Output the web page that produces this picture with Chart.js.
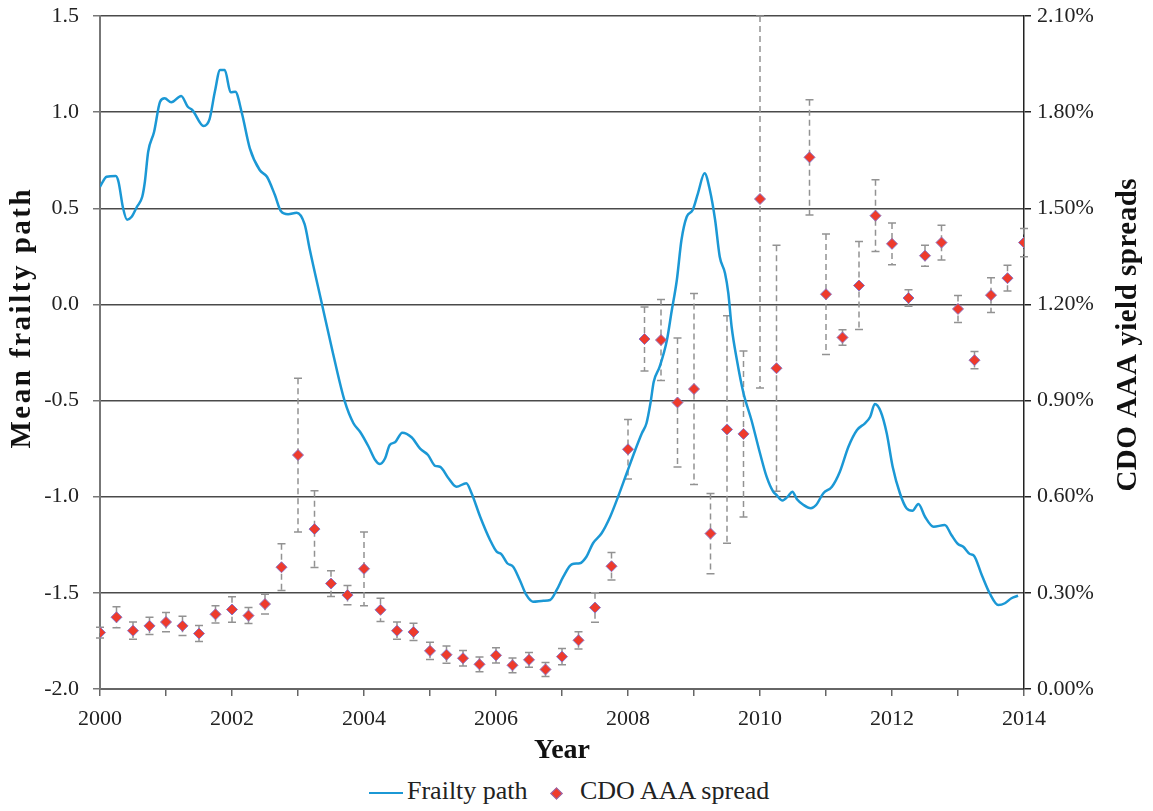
<!DOCTYPE html>
<html>
<head>
<meta charset="utf-8">
<script src="https://cdn.jsdelivr.net/npm/chart.js@4.4.1/dist/chart.umd.min.js"></script>
<style>
  body { margin: 0; background: #fff; }
  #wrap { position: relative; width: 1153px; height: 772px; }
  #legend { position: relative; width: 1153px; height: 39px; font-family: "Liberation Serif", serif; font-size: 26px; color: #222; }
  #legend span { position: absolute; top: 4px; line-height: 30px; white-space: nowrap; }
  #legend .line { position: absolute; left: 369px; top: 20px; width: 34px; height: 0; border-top: 2.5px solid #1b98d5; }
  #legend .dia { position: absolute; left: 552px; top: 17px; width: 7px; height: 7px; background: #ee3a2c; border: 1px solid #8b72c2; transform: rotate(45deg); }
</style>
</head>
<body>
<div id="wrap"><canvas id="chart"></canvas></div>
<div id="legend">
  <div class="line"></div><span style="left:407px">Frailty path</span>
  <div class="dia"></div><span style="left:580px">CDO AAA spread</span>
</div>
<script>
// Frailty path (left axis), sampled along the curve
const frailtyYears = [
  2000.00, 2000.10, 2000.24, 2000.28, 2000.35, 2000.41, 2000.48, 2000.56, 2000.64, 2000.68,
  2000.73, 2000.82, 2000.91, 2000.98, 2001.08, 2001.23, 2001.33, 2001.40, 2001.57, 2001.66,
  2001.74, 2001.82, 2001.89, 2001.98, 2002.05, 2002.15, 2002.27, 2002.42, 2002.53, 2002.65,
  2002.74, 2002.85, 2002.98, 2003.10, 2003.18, 2003.36, 2003.53, 2003.71, 2003.84, 2003.94,
  2004.07, 2004.17, 2004.24, 2004.32, 2004.39, 2004.47, 2004.58, 2004.72, 2004.85, 2004.97,
  2005.08, 2005.15, 2005.28, 2005.40, 2005.55, 2005.63, 2005.76, 2005.91, 2006.01, 2006.08,
  2006.17, 2006.26, 2006.36, 2006.46, 2006.56, 2006.72, 2006.82, 2006.92, 2007.02, 2007.15,
  2007.27, 2007.37, 2007.47, 2007.60, 2007.73, 2007.85, 2007.98, 2008.11, 2008.21, 2008.28,
  2008.34, 2008.39, 2008.48, 2008.59, 2008.66, 2008.74, 2008.81, 2008.89, 2008.98, 2009.06,
  2009.16, 2009.24, 2009.32, 2009.39, 2009.47, 2009.52, 2009.57, 2009.65, 2009.75, 2009.87,
  2010.00, 2010.10, 2010.20, 2010.25, 2010.34, 2010.43, 2010.49, 2010.56, 2010.66, 2010.77,
  2010.85, 2010.96, 2011.09, 2011.21, 2011.34, 2011.47, 2011.59, 2011.67, 2011.74, 2011.83,
  2011.92, 2012.01, 2012.12, 2012.22, 2012.31, 2012.40, 2012.50, 2012.63, 2012.80, 2012.90,
  2013.00, 2013.08, 2013.18, 2013.24, 2013.36, 2013.48, 2013.61, 2013.71, 2013.81, 2013.91
];
const frailtyValues = [
  0.612, 0.664, 0.668, 0.638, 0.500, 0.441, 0.456, 0.508, 0.560, 0.638,
  0.794, 0.898, 1.054, 1.072, 1.051, 1.084, 1.028, 1.011, 0.928, 0.964,
  1.106, 1.219, 1.219, 1.103, 1.106, 0.994, 0.812, 0.699, 0.664, 0.569,
  0.486, 0.469, 0.477, 0.417, 0.283, 0.006, -0.254, -0.506, -0.618, -0.662,
  -0.740, -0.809, -0.830, -0.800, -0.731, -0.717, -0.667, -0.691, -0.750, -0.783,
  -0.840, -0.844, -0.904, -0.948, -0.930, -0.982, -1.104, -1.225, -1.286, -1.298,
  -1.346, -1.364, -1.433, -1.511, -1.546, -1.541, -1.537, -1.485, -1.416, -1.351,
  -1.346, -1.312, -1.242, -1.190, -1.104, -1.000, -0.878, -0.757, -0.670, -0.618,
  -0.514, -0.402, -0.324, -0.185, -0.038, 0.127, 0.335, 0.456, 0.491, 0.578,
  0.682, 0.595, 0.439, 0.248, 0.162, 0.058, -0.116, -0.289, -0.462, -0.601,
  -0.774, -0.896, -0.974, -0.991, -1.020, -0.996, -0.974, -1.013, -1.043, -1.060,
  -1.043, -0.982, -0.948, -0.870, -0.740, -0.653, -0.618, -0.584, -0.518, -0.558,
  -0.670, -0.844, -0.982, -1.060, -1.073, -1.038, -1.104, -1.156, -1.147, -1.199,
  -1.246, -1.260, -1.298, -1.306, -1.407, -1.502, -1.563, -1.554, -1.528, -1.515
];

// CDO AAA spreads (right axis, %), quarterly, with error half-widths
const spreadDates = [
  2000.00, 2000.25, 2000.50, 2000.75, 2001.00, 2001.25, 2001.50, 2001.75,
  2002.00, 2002.25, 2002.50, 2002.75, 2003.00, 2003.25, 2003.50, 2003.75,
  2004.00, 2004.25, 2004.50, 2004.75, 2005.00, 2005.25, 2005.50, 2005.75,
  2006.00, 2006.25, 2006.50, 2006.75, 2007.00, 2007.25, 2007.50, 2007.75,
  2008.00, 2008.25, 2008.50, 2008.75, 2009.00, 2009.25, 2009.50, 2009.75,
  2010.00, 2010.25, 2010.75, 2011.00, 2011.25, 2011.50, 2011.75,
  2012.00, 2012.25, 2012.50, 2012.75, 2013.00, 2013.25, 2013.50, 2013.75, 2014.00
];
const spreadValues = [
  0.176, 0.224, 0.182, 0.197, 0.209, 0.197, 0.173, 0.233,
  0.248, 0.229, 0.265, 0.380, 0.730, 0.499, 0.329, 0.293,
  0.375, 0.247, 0.182, 0.178, 0.119, 0.107, 0.096, 0.077,
  0.105, 0.074, 0.091, 0.061, 0.101, 0.152, 0.254, 0.383,
  0.748, 1.092, 1.089, 0.894, 0.936, 0.485, 0.810, 0.796,
  1.529, 1.001, 1.659, 1.232, 1.097, 1.259, 1.477,
  1.389, 1.220, 1.352, 1.393, 1.186, 1.026, 1.229, 1.282, 1.393
];
const spreadErrors = [
  0.017, 0.033, 0.027, 0.027, 0.030, 0.030, 0.025, 0.027,
  0.040, 0.025, 0.031, 0.073, 0.240, 0.120, 0.040, 0.030,
  0.115, 0.036, 0.027, 0.027, 0.027, 0.027, 0.024, 0.023,
  0.024, 0.023, 0.023, 0.022, 0.025, 0.027, 0.046, 0.043,
  0.093, 0.100, 0.126, 0.201, 0.298, 0.125, 0.355, 0.259,
  0.590, 0.384, 0.180, 0.188, 0.024, 0.137, 0.112,
  0.065, 0.026, 0.033, 0.054, 0.042, 0.027, 0.054, 0.040, 0.044
];

const leftTitle = 'Mean frailty path';
const rightTitle = 'CDO AAA yield spreads';
const xTitle = 'Year';

const serif = '"Liberation Serif", "Times New Roman", serif';
Chart.defaults.font.family = serif;
Chart.defaults.color = '#222';

// dashed error bars with solid caps, drawn under the markers
const errorBars = {
  id: 'errorBars',
  beforeDatasetsDraw(chart) {
    const { ctx, chartArea, scales } = chart;
    const x = scales.x, y1 = scales.y1;
    ctx.save();
    ctx.strokeStyle = '#929292';
    ctx.lineWidth = 1.5;
    spreadDates.forEach((d, i) => {
      const px = x.getPixelForValue(d);
      const top = Math.max(y1.getPixelForValue(spreadValues[i] + spreadErrors[i]), chartArea.top);
      const bot = Math.min(y1.getPixelForValue(spreadValues[i] - spreadErrors[i]), chartArea.bottom);
      ctx.setLineDash([6, 4]);
      ctx.beginPath();
      ctx.moveTo(px, top);
      ctx.lineTo(px, bot);
      ctx.stroke();
      ctx.setLineDash([]);
      ctx.beginPath();
      ctx.moveTo(px - 4, top); ctx.lineTo(px + 4, top);
      ctx.moveTo(px - 4, bot); ctx.lineTo(px + 4, bot);
      ctx.stroke();
    });
    ctx.restore();
  }
};

// vertical axis titles, both reading bottom to top
function drawSideTitle(ctx, text, cx, cy, spacing) {
  ctx.save();
  ctx.fillStyle = '#111';
  ctx.font = 'bold 29px ' + serif;
  ctx.letterSpacing = spacing + 'px';
  ctx.textAlign = 'center';
  ctx.textBaseline = 'middle';
  ctx.translate(cx, cy);
  ctx.rotate(-Math.PI / 2);
  ctx.fillText(text, spacing / 2, 0);
  ctx.restore();
}

const sideTitles = {
  id: 'sideTitles',
  afterDraw(chart) {
    drawSideTitle(chart.ctx, leftTitle, 23, 319, 2.5);
    drawSideTitle(chart.ctx, rightTitle, 1129, 335, 0.5);
  }
};

// fixed axis widths; the tick label overhang is not allowed to shrink the plot
function fixWidth(w) {
  return scale => {
    scale.width = w;
    scale.paddingTop = 0;
    scale.paddingBottom = 0;
  };
}

const ctx = document.getElementById('chart');
new Chart(ctx, {
  type: 'scatter',
  data: {
    datasets: [{
      type: 'line',
      label: 'Frailty path',
      data: frailtyYears.map((yr, i) => ({ x: yr, y: frailtyValues[i] })),
      borderColor: '#1b98d5',
      borderWidth: 2.5,
      pointRadius: 0,
      cubicInterpolationMode: 'monotone',
      yAxisID: 'y',
      order: 2
    }, {
      label: 'CDO AAA spread',
      data: spreadDates.map((d, i) => ({ x: d, y: spreadValues[i] })),
      pointStyle: 'rectRot',
      pointRadius: 5.5,
      backgroundColor: '#ee3a2c',
      borderColor: '#8b72c2',
      borderWidth: 1,
      yAxisID: 'y1',
      order: 1
    }]
  },
  options: {
    responsive: true,
    maintainAspectRatio: false,
    animation: false,
    layout: { padding: { top: 16, left: 0, right: 0, bottom: 0 } },
    plugins: {
      legend: { display: false },
      tooltip: { enabled: false }
    },
    scales: {
      x: {
        type: 'linear',
        min: 2000,
        max: 2014,
        afterFit(scale) { scale.height = 83; },
        border: { color: '#666', width: 2 },
        grid: { drawOnChartArea: false, tickLength: 7, color: '#666', lineWidth: 1.5 },
        ticks: {
          stepSize: 1,
          autoSkip: false,
          maxRotation: 0,
          padding: 10,
          font: { size: 22 },
          callback: v => (v % 2 === 0 ? String(v) : '')
        },
        title: {
          display: true,
          text: xTitle,
          font: { size: 28, weight: 'bold' },
          color: '#111',
          padding: { top: 0, bottom: 4 }
        }
      },
      y: {
        position: 'left',
        min: -2.0,
        max: 1.5,
        afterFit: fixWidth(100),
        border: { color: '#777', width: 2 },
        grid: { color: '#4a4a4a', lineWidth: 1.5, tickLength: 7, tickColor: '#777' },
        ticks: {
          stepSize: 0.5,
          padding: 14,
          font: { size: 22 },
          callback: v => v.toFixed(1)
        }
      },
      y1: {
        position: 'right',
        min: 0,
        max: 2.1,
        afterFit: fixWidth(129),
        border: { color: '#222', width: 1.5 },
        grid: { drawOnChartArea: false, tickLength: 7, color: '#222', lineWidth: 1.5 },
        ticks: {
          stepSize: 0.3,
          padding: 6,
          font: { size: 22 },
          callback: v => v.toFixed(2) + '%'
        }
      }
    }
  },
  plugins: [errorBars, sideTitles]
});
</script>
</body>
</html>
